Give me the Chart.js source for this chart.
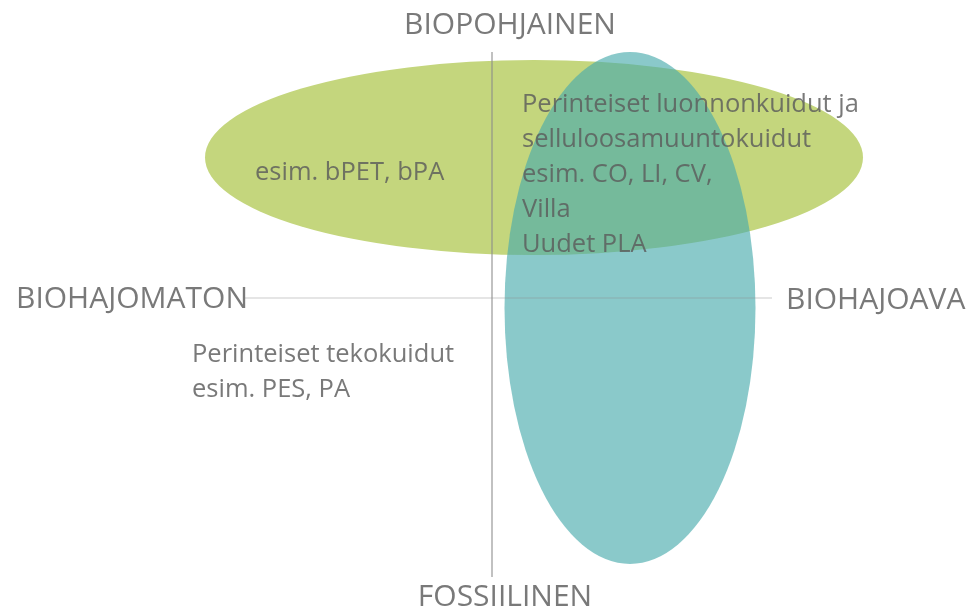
<!DOCTYPE html>
<html><head><meta charset="utf-8">
<script src="https://cdn.jsdelivr.net/npm/chart.js@4/dist/chart.umd.min.js"></script>
<style>html,body{margin:0;padding:0;background:#fff;}canvas{display:block;}</style>
</head><body>
<canvas id="c" width="978" height="610"></canvas>
<script>
// ---- data (diagram units: origin at the axis cross) ----
const ellipseNames   = ['Biopohjainen', 'Biohajoava'];
const ellipseCenterX = [0.42, 1.38];
const ellipseCenterY = [1.405, -0.10];
const ellipseRadiusX = [3.29, 1.255];
const ellipseRadiusY = [0.975, 2.56];

const horizontalAxis = [{x: -2.47, y: 0}, {x: 2.80, y: 0}];
const verticalAxis   = [{x: 0, y: 2.46}, {x: 0, y: -2.79}];

const axisLabelText = ['BIOPOHJAINEN', 'FOSSIILINEN', 'BIOHAJOMATON', 'BIOHAJOAVA'];
const axisLabelX    = [0.18, 0.13, -4.76, 2.94];
const axisLabelY    = [2.64, -3.08, -0.10, -0.11];
const axisLabelAlign = ['center', 'center', 'left', 'left'];

const noteLines = [
  ['esim. bPET, bPA'],
  ['Perinteiset luonnonkuidut ja', 'selluloosamuuntokuidut', 'esim. CO, LI, CV,', 'Villa', 'Uudet PLA'],
  ['Perinteiset tekokuidut', 'esim. PES, PA']
];
const noteX = [-2.37, 0.30, -3.00];
const noteY = [1.18, 1.86, -0.64];
const noteLineStep = 0.35;

// ---- styles ----
const ellipseColors = ['rgb(196,214,125)', 'rgba(72,170,172,0.64)'];
const textColor = 'rgba(92,92,92,0.82)';
const axisLineColor = 'rgba(140,140,140,0.45)';
const FONT = '"Open Sans", "Noto Sans", sans-serif';
const labelSize = 30;
const noteSize = 25.5;

const shapesPlugin = {
  id: 'shapes',
  beforeDatasetsDraw(chart) {
    const {ctx, scales: {x, y}} = chart;
    ctx.save();
    for (let i = 0; i < ellipseNames.length; i++) {
      const cx = x.getPixelForValue(ellipseCenterX[i]);
      const cy = y.getPixelForValue(ellipseCenterY[i]);
      const rx = Math.abs(x.getPixelForValue(ellipseCenterX[i] + ellipseRadiusX[i]) - cx);
      const ry = Math.abs(y.getPixelForValue(ellipseCenterY[i] + ellipseRadiusY[i]) - cy);
      ctx.beginPath();
      ctx.ellipse(cx, cy, rx, ry, 0, 0, Math.PI * 2);
      ctx.fillStyle = ellipseColors[i];
      ctx.fill();
    }
    ctx.restore();
  },
  afterDatasetsDraw(chart) {
    const {ctx, scales: {x, y}} = chart;
    const drawText = (t, px, py, align, size) => {
      ctx.save();
      ctx.font = size + 'px ' + FONT;
      ctx.fillStyle = textColor;
      ctx.textBaseline = 'alphabetic';
      ctx.textAlign = align;
      ctx.fillText(t, px, py);
      ctx.restore();
    };
    for (let i = 0; i < axisLabelText.length; i++) {
      drawText(axisLabelText[i], x.getPixelForValue(axisLabelX[i]), y.getPixelForValue(axisLabelY[i]), axisLabelAlign[i], labelSize);
    }
    for (let n = 0; n < noteLines.length; n++) {
      noteLines[n].forEach((t, k) => {
        drawText(t, x.getPixelForValue(noteX[n]), y.getPixelForValue(noteY[n] - k * noteLineStep), 'left', noteSize);
      });
    }
  }
};

new Chart(document.getElementById('c'), {
  type: 'scatter',
  data: {
    datasets: [
      {label: 'horizontal', data: horizontalAxis, showLine: true, borderColor: axisLineColor, borderWidth: 1, pointRadius: 0, fill: false},
      {label: 'vertical', data: verticalAxis, showLine: true, borderColor: axisLineColor, borderWidth: 1, pointRadius: 0, fill: false}
    ]
  },
  options: {
    responsive: false,
    animation: false,
    layout: {padding: 0},
    plugins: {legend: {display: false}, tooltip: {enabled: false}},
    scales: {
      x: {type: 'linear', min: -4.92, max: 4.86, display: false},
      y: {type: 'linear', min: -3.12, max: 2.98, display: false}
    }
  },
  plugins: [shapesPlugin]
});
</script>
</body></html>
